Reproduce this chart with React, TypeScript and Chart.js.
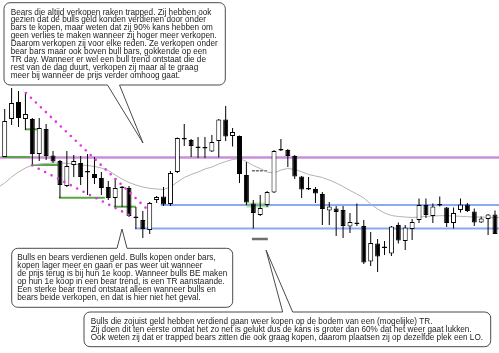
import React, { useEffect, useRef } from "react";
import { Chart, registerables } from "chart.js";

Chart.register(...registerables);

// x axis: candle index; y axis: price (arbitrary units)
const X_MIN = -0.68;
const X_MAX = 71.58;
const Y_MIN = 7;
const Y_MAX = 360;

const opens = [
  203, 241, 258, 241, 241, 206, 231, 204.5, 199, 174,
  195, 197, 189, 186, 182, 173, 162, 173.5, 172, 143.5,
  140, 130, 160, 163.5, 156, 188, 222, 220, 213.5, 213,
  208.5, 219, 240.5, 224, 224, 185, 156.5, 145, 155, 167.5,
  211, 210, 204, 183.5, 172, 171, 166, 149.5, 151.5, 150,
  133.5, 137.5, 134, 98.5, 116.5, 113.5, 106.5, 135, 119, 131,
  140, 155, 144, 156, 152.5, 137, 150, 155.5, 148.5, 137.5,
  141, 145.5,
];
const highs = [
  251, 272, 269, 268, 242, 242, 236, 209, 200, 209,
  205, 204, 206, 203, 188, 179, 182, 174, 174, 153,
  149, 158, 164, 173, 189, 222.5, 236, 221, 223, 223,
  225, 241, 254, 232, 224.5, 198, 160, 165, 169, 210,
  221, 211, 205, 184, 183, 173, 168, 158, 154, 154,
  147, 156.5, 140, 128, 121, 119, 134, 137.5, 135, 141,
  161.5, 161.5, 156.5, 163.5, 153, 152.5, 161.5, 157, 151.5, 143.5,
  146, 149.5,
];
const lows = [
  203, 235, 233, 230, 195, 199, 200, 197, 162, 173,
  183, 175, 165, 176, 165, 160, 153, 153, 143, 131,
  122, 126, 157, 154, 154, 187, 214, 203, 202, 202,
  208, 202.5, 219, 213.5, 177, 155, 131.5, 144, 153, 167,
  209, 193, 181, 162, 170, 157, 135, 135, 124, 122,
  127, 134, 96, 94, 88, 105, 104, 116.5, 110, 120,
  137, 142, 137, 153.5, 133, 131.5, 147.5, 148, 134, 137,
  125, 126,
];
const closes = [
  239, 257, 242, 246, 206, 232, 204, 198.5, 175, 194,
  199, 183, 187.5, 182, 172, 162, 172, 172, 144, 142,
  131, 157, 163, 155.5, 187, 222, 220.5, 214, 212, 211.5,
  218, 240.5, 223.5, 228, 186, 157.5, 147, 152, 168, 209,
  209.5, 204, 183.5, 170.5, 170.5, 166.5, 151, 153.5, 148, 134,
  138, 136, 97.5, 117, 103.5, 112, 133.5, 119.5, 132.5, 138,
  155, 145, 153.5, 154.5, 137, 147, 155.5, 149, 137.5, 141.5,
  145.5, 126,
];

// 20-bar moving average (one value per candle)
const maLeadIn = 174;
const movingAverage = [
  177, 183, 188, 192, 195, 196, 196.5, 197, 197, 196.7,
  196, 195, 194.5, 193.5, 192, 189.5, 185, 181, 177.5, 175,
  173, 171.7, 171, 170.5, 173, 178, 182.5, 185.5, 188, 191,
  193, 196, 198.5, 200.5, 201.5, 198.5, 194.5, 191.5, 188, 187,
  190, 191.5, 190.5, 188.3, 185.5, 184, 182.5, 180, 177, 173.5,
  169.5, 166, 162, 156, 151, 147, 144.5, 143.5, 143, 142.5,
  143, 143.5, 144, 144.3, 144.3, 144, 143.7, 143.3, 143, 143,
  142.7, 142.5,
];
const maTail = 142.5;

// horizontal levels
const purpleLevel = 202.5;
const blueLevelPrice = [155, 131.5];
const blueLevelStart = [22.6, 18.9];
const greenSegStart = [2.94, -0.3, 3.9, 7.86, 15.8];
const greenSegEnd = [5.11, 3.7, 7.7, 14.5, 19.0];
const greenSegPrice = [230.7, 203, 195, 162.3, 153.3];
const greenZone = { start: 35.0, end: 38.3, price: 155 };
const grayDashLevel = { start: 35.8, end: 38.0, price: 189.3 };
const grayThickLevel = { start: 35.8, end: 38.1, price: 121 };

// dotted trend lines [startIdx, startPrice, endIdx, endPrice]
const trendUpper = [3.08, 267, 20.9, 149];
const trendLower = [4.0, 194.5, 18.58, 143];

const box1Lines = [
  "Bears die altijd verkopen raken trapped. Zij hebben ook",
  "gezien dat de bulls geld konden verdienen door onder",
  "bars te kopen, maar weten dat zij 90% kans hebben om",
  "geen verlies te maken wanneer zij hoger meer verkopen.",
  "Daarom verkopen zij voor elke reden. Ze verkopen onder",
  "bear bars maar ook boven bull bars, gokkende op een",
  "TR day. Wanneer er wel een bull trend ontstaat die de",
  "rest van de dag duurt, verkopen zij maar al te graag",
  "meer bij wanneer de prijs verder omhoog gaat.",
];
const box2Lines = [
  "Bulls en bears verdienen geld. Bulls kopen onder bars,",
  "kopen lager meer en gaan er pas weer uit wanneer",
  "de prijs terug is bij hun 1e koop. Wanneer bulls BE maken",
  "op hun 1e koop in een bear trend, is een TR aanstaande.",
  "Een sterke bear trend ontstaat alleen wanneer bulls en",
  "bears beide verkopen, en dat is hier niet het geval.",
];
const box3Lines = [
  "Bulls die zojuist geld hebben verdiend gaan weer kopen op de bodem van een (mogelijke) TR.",
  "Zij doen dit ten eerste omdat het zo net is gelukt dus de kans is groter dan 60% dat het weer gaat lukken.",
  "Ook weten zij dat er trapped bears zitten die ook graag kopen, daarom plaatsen zij op dezelfde plek een LO.",
];

type Box = {
  x: number; y: number; w: number; h: number;
  edge: "top" | "bottom"; a: number; b: number; tx: number; ty: number;
  textX: number; lines: string[];
};

const boxes: Box[] = [
  { x: 4, y: 2.7, w: 221.3, h: 82.3, edge: "bottom", a: 107.5, b: 119.5, tx: 143, ty: 143, textX: 10.7, lines: box1Lines },
  { x: 11.7, y: 248.3, w: 221, h: 59, edge: "top", a: 117, b: 127, tx: 122, ty: 229, textX: 17.3, lines: box2Lines },
  { x: 84, y: 312, w: 406.7, h: 34.7, edge: "top", a: 282.7, b: 292.7, tx: 266, ty: 250, textX: 90.7, lines: box3Lines },
];

const calloutPlugin = {
  id: "callouts",
  afterDraw(chart: any) {
    const ctx: CanvasRenderingContext2D = chart.ctx;
    ctx.save();
    for (const b of boxes) {
      const { x, y, w, h } = b;
      const r = 6;
      ctx.beginPath();
      ctx.moveTo(x + r, y);
      if (b.edge === "top") {
        ctx.lineTo(b.a, y);
        ctx.lineTo(b.tx, b.ty);
        ctx.lineTo(b.b, y);
      }
      ctx.lineTo(x + w - r, y);
      ctx.arcTo(x + w, y, x + w, y + r, r);
      ctx.lineTo(x + w, y + h - r);
      ctx.arcTo(x + w, y + h, x + w - r, y + h, r);
      if (b.edge === "bottom") {
        ctx.lineTo(b.b, y + h);
        ctx.lineTo(b.tx, b.ty);
        ctx.lineTo(b.a, y + h);
      }
      ctx.lineTo(x + r, y + h);
      ctx.arcTo(x, y + h, x, y + h - r, r);
      ctx.lineTo(x, y + r);
      ctx.arcTo(x, y, x + r, y, r);
      ctx.closePath();
      ctx.fillStyle = "#ffffff";
      ctx.fill();
      ctx.lineWidth = 1;
      ctx.strokeStyle = "#4a4a4a";
      ctx.stroke();

      ctx.fillStyle = "#222222";
      ctx.font = '8.2px "Liberation Sans", Arial, sans-serif';
      ctx.textBaseline = "middle";
      ctx.textAlign = "left";
      b.lines.forEach((line, i) => {
        ctx.fillText(line, b.textX, y + 9.6 + i * 7.9);
      });
    }
    ctx.restore();
  },
};

function seg(x1: number, y1: number, x2: number, y2: number) {
  return [
    { x: x1, y: y1 },
    { x: x2, y: y2 },
  ];
}

export default function App() {
  const canvasRef = useRef<HTMLCanvasElement | null>(null);

  useEffect(() => {
    document.body.style.margin = "0";
    const canvas = canvasRef.current;
    if (!canvas) return;

    const isBull = opens.map((o, i) => closes[i] > o);
    const bodyData = opens.map((o, i) => ({ x: i, y: [o, closes[i]] }));
    const wickData = lows.map((l, i) => ({ x: i, y: [l, highs[i]] }));
    const maData = [
      { x: X_MIN, y: maLeadIn },
      ...movingAverage.map((v, i) => ({ x: i, y: v })),
      { x: X_MAX, y: maTail },
    ];

    const lineBase = {
      type: "line" as const,
      pointRadius: 0,
      fill: false,
      tension: 0,
    };

    const datasets: any[] = [
      {
        ...lineBase,
        data: seg(trendUpper[0], trendUpper[1], trendUpper[2], trendUpper[3]),
        borderColor: "#e535e5",
        borderWidth: 2.6,
        borderDash: [0, 6.9],
        borderCapStyle: "round",
      },
      {
        ...lineBase,
        data: seg(trendLower[0], trendLower[1], trendLower[2], trendLower[3]),
        borderColor: "#e535e5",
        borderWidth: 2.6,
        borderDash: [0, 7.2],
        borderCapStyle: "round",
      },
      {
        type: "bar",
        data: bodyData,
        backgroundColor: isBull.map((b) => (b ? "#ffffff" : "#000000")),
        borderColor: "#000000",
        borderWidth: 1,
        borderSkipped: false,
        barThickness: 5,
        grouped: false,
        inflateAmount: 0,
      },
      {
        type: "bar",
        data: wickData,
        backgroundColor: "#000000",
        borderWidth: 0,
        barThickness: 1,
        grouped: false,
        inflateAmount: 0,
      },
      {
        ...lineBase,
        data: maData,
        borderColor: "#b3b3b3",
        borderWidth: 1,
      },
      {
        ...lineBase,
        data: seg(grayDashLevel.start, grayDashLevel.price, grayDashLevel.end, grayDashLevel.price),
        borderColor: "#6e6e6e",
        borderWidth: 1.5,
        borderDash: [3, 1],
      },
      {
        ...lineBase,
        data: seg(grayThickLevel.start, grayThickLevel.price, grayThickLevel.end, grayThickLevel.price),
        borderColor: "#6e6e6e",
        borderWidth: 2.5,
      },
      {
        ...lineBase,
        data: seg(greenZone.start, greenZone.price, greenZone.end, greenZone.price),
        borderColor: "rgba(110,190,90,0.45)",
        borderWidth: 5,
      },
      ...greenSegStart.map((s, i) => ({
        ...lineBase,
        data: seg(s, greenSegPrice[i], greenSegEnd[i], greenSegPrice[i]),
        borderColor: "#5aa645",
        borderWidth: 2,
      })),
      ...blueLevelPrice.map((p, i) => ({
        ...lineBase,
        data: seg(blueLevelStart[i], p, X_MAX, p),
        borderColor: "#8aaaf2",
        borderWidth: 2.2,
      })),
      {
        ...lineBase,
        data: seg(X_MIN, purpleLevel, X_MAX, purpleLevel),
        borderColor: "#c98fd8",
        borderWidth: 2.6,
      },
    ];

    const chart = new Chart(canvas, {
      type: "bar",
      data: { datasets },
      options: {
        responsive: false,
        animation: false,
        devicePixelRatio: 1,
        layout: { padding: 0 },
        scales: {
          x: { type: "linear", min: X_MIN, max: X_MAX, display: false, offset: false },
          y: { type: "linear", min: Y_MIN, max: Y_MAX, display: false },
        },
        plugins: {
          legend: { display: false },
          tooltip: { enabled: false },
        },
      },
      plugins: [calloutPlugin],
    } as any);

    return () => chart.destroy();
  }, []);

  return (
    <div style={{ width: 499, height: 353, background: "#ffffff" }}>
      <canvas ref={canvasRef} width={499} height={353} />
    </div>
  );
}
